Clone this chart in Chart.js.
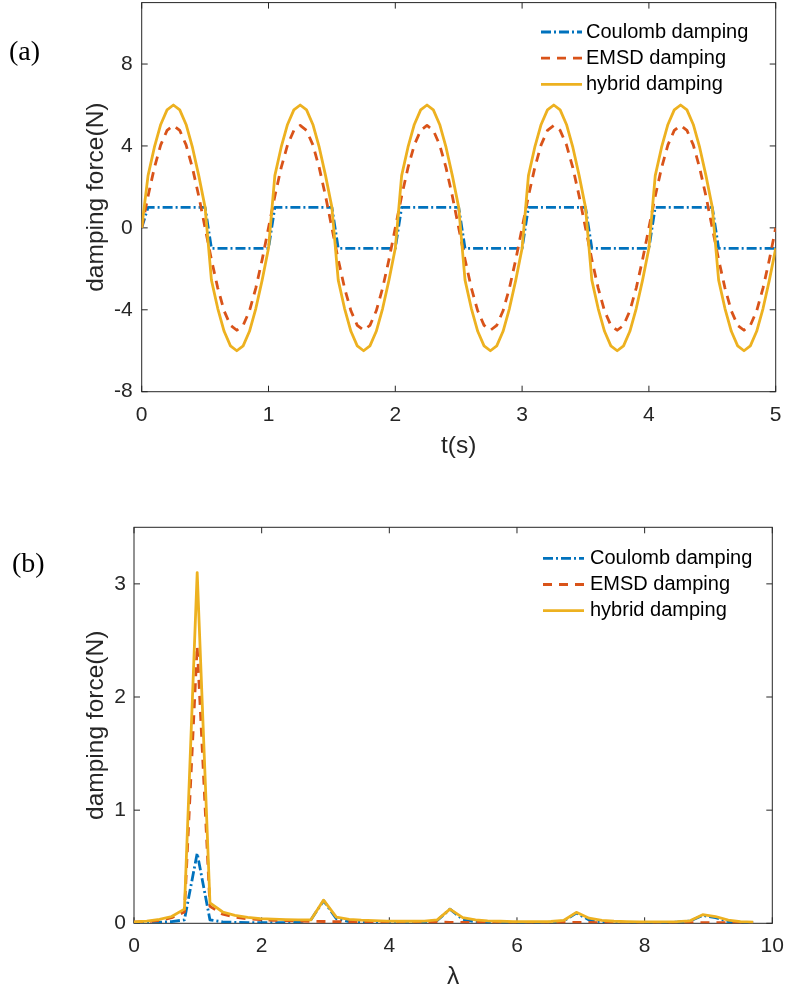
<!DOCTYPE html>
<html lang="en">

<head>
    <meta charset="UTF-8">
    <title>Damping force: time history and spectrum</title>

    <!-- ChartJS CDN -->
    <script src="https://cdn.jsdelivr.net/npm/chart.js@4.4.1/dist/chart.umd.min.js"></script>

    <style>
        body { margin: 0; background: #fff; }
        .page { position: relative; width: 787px; height: 994px; }
        .page canvas { position: absolute; left: 0; }
        #chartA { top: 0; }
        #chartB { top: 480px; }
        .panel-tag { position: absolute; font: 28px 'Liberation Serif', 'Times New Roman', serif; line-height: 1; color: #000; }
    </style>
</head>

<body>
    <div class="page">
        <canvas id="chartA" width="787" height="470"></canvas>
        <canvas id="chartB" width="787" height="514"></canvas>
        <div class="panel-tag" style="left:9px; top:37px;">(a)</div>
        <div class="panel-tag" style="left:12px; top:549px;">(b)</div>
    </div>

    <script>
        // ---- (a) time history, sampled every 0.05 s ----
        const timeS = [
            0.00, 0.05, 0.10, 0.15, 0.20, 0.25, 0.30, 0.35, 0.40, 0.45,
            0.50, 0.55, 0.60, 0.65, 0.70, 0.75, 0.80, 0.85, 0.90, 0.95,
            1.00, 1.05, 1.10, 1.15, 1.20, 1.25, 1.30, 1.35, 1.40, 1.45,
            1.50, 1.55, 1.60, 1.65, 1.70, 1.75, 1.80, 1.85, 1.90, 1.95,
            2.00, 2.05, 2.10, 2.15, 2.20, 2.25, 2.30, 2.35, 2.40, 2.45,
            2.50, 2.55, 2.60, 2.65, 2.70, 2.75, 2.80, 2.85, 2.90, 2.95,
            3.00, 3.05, 3.10, 3.15, 3.20, 3.25, 3.30, 3.35, 3.40, 3.45,
            3.50, 3.55, 3.60, 3.65, 3.70, 3.75, 3.80, 3.85, 3.90, 3.95,
            4.00, 4.05, 4.10, 4.15, 4.20, 4.25, 4.30, 4.35, 4.40, 4.45,
            4.50, 4.55, 4.60, 4.65, 4.70, 4.75, 4.80, 4.85, 4.90, 4.95,
            5.00
        ];
        const coulombA = [
            0, 1, 1, 1, 1, 1, 1, 1, 1, 1,
            1, -1, -1, -1, -1, -1, -1, -1, -1, -1,
            -1, 1, 1, 1, 1, 1, 1, 1, 1, 1,
            1, -1, -1, -1, -1, -1, -1, -1, -1, -1,
            -1, 1, 1, 1, 1, 1, 1, 1, 1, 1,
            1, -1, -1, -1, -1, -1, -1, -1, -1, -1,
            -1, 1, 1, 1, 1, 1, 1, 1, 1, 1,
            1, -1, -1, -1, -1, -1, -1, -1, -1, -1,
            -1, 1, 1, 1, 1, 1, 1, 1, 1, 1,
            1, -1, -1, -1, -1, -1, -1, -1, -1, -1,
            -1
        ];
        const emsdA = [
            0, 1.55, 2.94, 4.05, 4.76, 5, 4.76, 4.05, 2.94, 1.55,
            0, -1.55, -2.94, -4.05, -4.76, -5, -4.76, -4.05, -2.94, -1.55,
            0, 1.55, 2.94, 4.05, 4.76, 5, 4.76, 4.05, 2.94, 1.55,
            0, -1.55, -2.94, -4.05, -4.76, -5, -4.76, -4.05, -2.94, -1.55,
            0, 1.55, 2.94, 4.05, 4.76, 5, 4.76, 4.05, 2.94, 1.55,
            0, -1.55, -2.94, -4.05, -4.76, -5, -4.76, -4.05, -2.94, -1.55,
            0, 1.55, 2.94, 4.05, 4.76, 5, 4.76, 4.05, 2.94, 1.55,
            0, -1.55, -2.94, -4.05, -4.76, -5, -4.76, -4.05, -2.94, -1.55,
            0, 1.55, 2.94, 4.05, 4.76, 5, 4.76, 4.05, 2.94, 1.55,
            0, -1.55, -2.94, -4.05, -4.76, -5, -4.76, -4.05, -2.94, -1.55,
            0
        ];
        const hybridA = [
            0, 2.55, 3.94, 5.05, 5.76, 6, 5.76, 5.05, 3.94, 2.55,
            1, -2.55, -3.94, -5.05, -5.76, -6, -5.76, -5.05, -3.94, -2.55,
            -1, 2.55, 3.94, 5.05, 5.76, 6, 5.76, 5.05, 3.94, 2.55,
            1, -2.55, -3.94, -5.05, -5.76, -6, -5.76, -5.05, -3.94, -2.55,
            -1, 2.55, 3.94, 5.05, 5.76, 6, 5.76, 5.05, 3.94, 2.55,
            1, -2.55, -3.94, -5.05, -5.76, -6, -5.76, -5.05, -3.94, -2.55,
            -1, 2.55, 3.94, 5.05, 5.76, 6, 5.76, 5.05, 3.94, 2.55,
            1, -2.55, -3.94, -5.05, -5.76, -6, -5.76, -5.05, -3.94, -2.55,
            -1, 2.55, 3.94, 5.05, 5.76, 6, 5.76, 5.05, 3.94, 2.55,
            1, -2.55, -3.94, -5.05, -5.76, -6, -5.76, -5.05, -3.94, -2.55,
            -1
        ];
        const xTicksA = [0, 1, 2, 3, 4, 5];
        const yTicksA = [-8, -4, 0, 4, 8];

        // ---- (b) spectrum ----
        const lambdaB = [
            0.00, 0.20, 0.40, 0.59, 0.79, 0.99, 1.19, 1.39, 1.58, 1.78,
            1.98, 2.18, 2.38, 2.57, 2.77, 2.97, 3.17, 3.37, 3.56, 3.76,
            3.96, 4.16, 4.36, 4.55, 4.75, 4.95, 5.15, 5.35, 5.54, 5.74,
            5.94, 6.14, 6.34, 6.53, 6.73, 6.93, 7.13, 7.33, 7.52, 7.72,
            7.92, 8.12, 8.32, 8.51, 8.71, 8.91, 9.11, 9.31, 9.50, 9.70
        ];
        const coulombB = [
            0.005, 0.006, 0.010, 0.015, 0.030, 0.620, 0.030, 0.012, 0.008, 0.006,
            0.005, 0.005, 0.006, 0.010, 0.030, 0.200, 0.040, 0.015, 0.008, 0.006,
            0.005, 0.005, 0.006, 0.010, 0.025, 0.125, 0.035, 0.012, 0.007, 0.005,
            0.004, 0.005, 0.006, 0.010, 0.020, 0.090, 0.030, 0.012, 0.006, 0.005,
            0.004, 0.005, 0.006, 0.010, 0.020, 0.070, 0.050, 0.015, 0.008, 0.005
        ];
        const emsdB = [
            0.010, 0.015, 0.025, 0.050, 0.100, 2.450, 0.150, 0.080, 0.055, 0.040,
            0.032, 0.027, 0.023, 0.020, 0.018, 0.016, 0.015, 0.014, 0.013, 0.012,
            0.011, 0.011, 0.010, 0.010, 0.010, 0.009, 0.009, 0.009, 0.008, 0.008,
            0.008, 0.008, 0.007, 0.007, 0.007, 0.007, 0.007, 0.006, 0.006, 0.006,
            0.006, 0.006, 0.006, 0.006, 0.005, 0.005, 0.005, 0.005, 0.005, 0.005
        ];
        const hybridB = [
            0.012, 0.020, 0.035, 0.060, 0.125, 3.100, 0.180, 0.100, 0.070, 0.052,
            0.042, 0.036, 0.032, 0.030, 0.030, 0.205, 0.055, 0.035, 0.028, 0.024,
            0.020, 0.018, 0.018, 0.020, 0.030, 0.125, 0.050, 0.030, 0.022, 0.018,
            0.015, 0.014, 0.014, 0.016, 0.025, 0.097, 0.045, 0.025, 0.018, 0.015,
            0.012, 0.012, 0.012, 0.015, 0.022, 0.076, 0.060, 0.028, 0.015, 0.010
        ];
        const xTicksB = [0, 2, 4, 6, 8, 10];
        const yTicksB = [0, 1, 2, 3];

        const seriesNames = ['Coulomb damping', 'EMSD damping', 'hybrid damping'];

        // ---- styling ----
        const axisColor = '#262626';
        const sansFamily = '"Liberation Sans", Arial, Helvetica, sans-serif';
        const tickFont = { family: sansFamily, size: 21 };
        const titleFont = { family: sansFamily, size: 24.5 };

        // MATLAB-like box with inward ticks on all four sides
        const boxFrame = {
            id: 'boxFrame',
            beforeDatasetsDraw(chart) {
                const { ctx, chartArea: a, scales: { x, y } } = chart;
                const len = 6;
                ctx.save();
                ctx.strokeStyle = axisColor;
                ctx.lineWidth = 1;
                ctx.beginPath();
                x.ticks.forEach(t => {
                    const px = x.getPixelForValue(t.value);
                    ctx.moveTo(px, a.bottom); ctx.lineTo(px, a.bottom - len);
                    ctx.moveTo(px, a.top); ctx.lineTo(px, a.top + len);
                });
                y.ticks.forEach(t => {
                    const py = y.getPixelForValue(t.value);
                    ctx.moveTo(a.left, py); ctx.lineTo(a.left + len, py);
                    ctx.moveTo(a.right, py); ctx.lineTo(a.right - len, py);
                });
                ctx.stroke();
                ctx.strokeRect(a.left, a.top, a.right - a.left, a.bottom - a.top);
                ctx.restore();
            }
        };

        // legend drawn inside the plot, one row per series
        const insideLegend = {
            id: 'insideLegend',
            afterDraw(chart, args, opts) {
                const { ctx } = chart;
                ctx.save();
                ctx.font = '20px ' + sansFamily;
                ctx.textBaseline = 'middle';
                ctx.fillStyle = '#000';
                chart.data.datasets.forEach((ds, i) => {
                    const yy = opts.top + i * opts.rowGap;
                    ctx.strokeStyle = ds.borderColor;
                    ctx.lineWidth = ds.borderWidth;
                    ctx.setLineDash(ds.borderDash || []);
                    ctx.beginPath();
                    ctx.moveTo(opts.left, yy);
                    ctx.lineTo(opts.left + opts.lineLen, yy);
                    ctx.stroke();
                    ctx.setLineDash([]);
                    ctx.fillText(ds.label, opts.textLeft, yy);
                });
                ctx.restore();
            }
        };

        function makeDatasets(xs, coulomb, emsd, hybrid) {
            const pts = arr => xs.map((v, i) => ({ x: v, y: arr[i] }));
            return [
                { label: seriesNames[0], data: pts(coulomb), borderColor: '#0072BD', borderWidth: 2.8, borderDash: [10, 3, 2, 3], order: 3 },
                { label: seriesNames[1], data: pts(emsd), borderColor: '#D95319', borderWidth: 2.8, borderDash: [9, 7], order: 2 },
                { label: seriesNames[2], data: pts(hybrid), borderColor: '#EDB120', borderWidth: 2.8, order: 1 }
            ];
        }

        function axis(opts) {
            return {
                type: 'linear',
                min: opts.min,
                max: opts.max,
                afterBuildTicks: s => { s.ticks = opts.ticks.map(v => ({ value: v })); },
                afterFit: s => {
                    if (opts.width) s.width = opts.width;
                    if (opts.height) s.height = opts.height;
                    s.paddingTop = s.paddingBottom = s.paddingLeft = s.paddingRight = 0;
                },
                grid: { display: false, drawTicks: false },
                border: { display: false },
                ticks: { padding: opts.pad, color: axisColor, font: tickFont, maxRotation: 0, autoSkip: false, callback: v => String(v) },
                title: { display: true, text: opts.title, color: axisColor, font: titleFont, padding: 0 }
            };
        }

        function makeChart(id, datasets, scales, padding, legendPos) {
            return new Chart(document.getElementById(id), {
                type: 'line',
                data: { datasets },
                options: {
                    responsive: false,
                    animation: false,
                    events: [],
                    devicePixelRatio: 1,
                    layout: { padding },
                    elements: {
                        point: { radius: 0 },
                        line: { tension: 0, borderJoinStyle: 'round', fill: false }
                    },
                    plugins: {
                        legend: { display: false },
                        tooltip: { enabled: false },
                        insideLegend: legendPos
                    },
                    scales
                },
                plugins: [boxFrame, insideLegend]
            });
        }

        makeChart('chartA',
            makeDatasets(timeS, coulombA, emsdA, hybridA),
            {
                x: axis({ min: 0, max: 5, ticks: xTicksA, height: 69.4, pad: 11, title: 't(s)' }),
                y: axis({ min: -8, max: 11, ticks: yTicksA, width: 60.1, pad: 9, title: 'damping force(N)' })
            },
            { left: 81.6, right: 11.3, top: 2.6, bottom: 8.9 },
            { left: 541, lineLen: 41, textLeft: 586, top: 32, rowGap: 26.2 }
        );

        makeChart('chartB',
            makeDatasets(lambdaB, coulombB, emsdB, hybridB),
            {
                x: axis({ min: 0, max: 10, ticks: xTicksB, height: 68.6, pad: 10, title: 'λ' }),
                y: axis({ min: 0, max: 3.5, ticks: yTicksB, width: 52.4, pad: 8, title: 'damping force(N)' })
            },
            { left: 81.6, right: 14.7, top: 47.3, bottom: 2.1 },
            { left: 543, lineLen: 41, textLeft: 590, top: 78.3, rowGap: 26.2 }
        );
    </script>
</body>

</html>
